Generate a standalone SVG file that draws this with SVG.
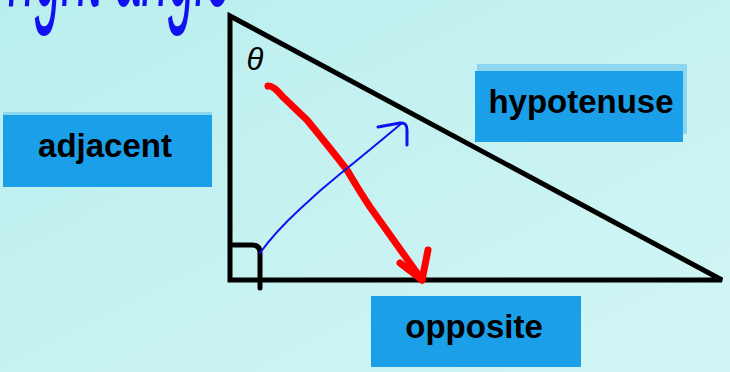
<svg xmlns="http://www.w3.org/2000/svg" width="730" height="372" viewBox="0 0 730 372">
<defs>
<linearGradient id="bg" x1="0" y1="0" x2="1" y2="1">
<stop offset="0" stop-color="#BAEEEE"/>
<stop offset="1" stop-color="#D2F6F5"/>
</linearGradient>
<style>
.box{fill:#1A9FE8}
.shadow{fill:#8DD6F0}
.lbl{font-family:"Liberation Sans",Arial,sans-serif;font-weight:bold;font-size:33px;fill:#000;text-anchor:middle}
.tri{fill:none;stroke:#000;stroke-width:5;stroke-linejoin:miter}
</style>
</defs>
<rect width="730" height="372" fill="url(#bg)"/>
<g id="handwriting">
<text x="8" y="2" transform="scale(1,3)" font-family="'Liberation Sans',Arial,sans-serif" font-style="italic" font-size="48" fill="#1010F0">right angle</text>
</g>
<g id="triangle">
<polygon class="tri" points="230,16 230,280 722,280"/>
<path d="M232 245 L252 245 Q260 245 260 253 L260 288" fill="none" stroke="#000" stroke-width="5" stroke-linecap="round"/>
<text x="255" y="70" font-family="'Liberation Sans',Arial,sans-serif" font-style="italic" font-size="31" text-anchor="middle" fill="#000">θ</text>
</g>
<g id="connectors">
<path d="M268 86 Q273 85 283 97 L307 120 Q330 148 347 170 Q360 192 370 207 L422 280" fill="none" stroke="#F00" stroke-width="7" stroke-linecap="round" stroke-linejoin="round"/>
<path d="M400 263 L422 280 L428 250" fill="none" stroke="#F00" stroke-width="7" stroke-linecap="round" stroke-linejoin="round"/>
<path d="M260 253 Q275 232 300 209 Q320 190 340 174 Q365 154 402 123" fill="none" stroke="#1010F0" stroke-width="2" stroke-linecap="round"/>
<path d="M378 127 L400 123 Q407 122 407 130 L407 145" fill="none" stroke="#1010F0" stroke-width="3" stroke-linecap="round" stroke-linejoin="round"/>
</g>
<g id="hypotenuse">
<rect class="shadow" x="477" y="64" width="210" height="70"/>
<rect class="box" x="475" y="71" width="208" height="71"/>
<text class="lbl" x="581" y="113">hypotenuse</text>
</g>
<g id="adjacent">
<rect class="shadow" x="3" y="112" width="209" height="70"/>
<rect class="box" x="3" y="115" width="209" height="72"/>
<text class="lbl" x="105" y="157">adjacent</text>
</g>
<g id="opposite">
<rect class="box" x="371" y="296" width="210" height="71"/>
<text class="lbl" x="474" y="338">opposite</text>
</g>
</svg>
